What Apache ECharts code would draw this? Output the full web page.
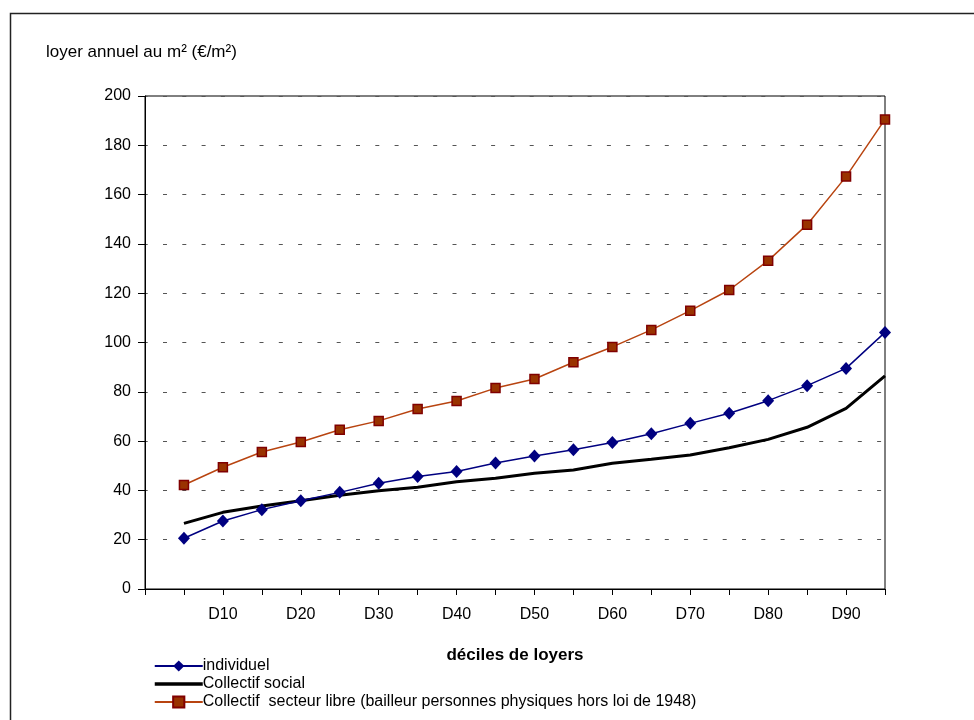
<!DOCTYPE html>
<html>
<head>
<meta charset="utf-8">
<script src="https://cdn.jsdelivr.net/npm/echarts@6/dist/echarts.min.js"></script>
<style>html,body{margin:0;padding:0;background:#fff}#c{width:974px;height:720px}</style>
</head>
<body>
<div id="c"></div>
<script>
// categories (position 0 is the empty slot before the first decile)
var categories = ['D0','D5','D10','D15','D20','D25','D30','D35','D40','D45','D50','D55','D60','D65','D70','D75','D80','D85','D90','D95'];
var tickLabels = ['D10','D20','D30','D40','D50','D60','D70','D80','D90'];
var yTicks = [0,20,40,60,80,100,120,140,160,180,200];

var individuel = [null,20.6,27.6,32.2,35.8,39.2,42.9,45.6,47.7,51.1,54.0,56.5,59.4,63.0,67.2,71.3,76.4,82.5,89.5,104.1];
var collectifSocial = [null,26.6,31.1,33.7,35.8,38.0,39.9,41.3,43.5,44.9,47.0,48.3,51.0,52.6,54.4,57.3,60.7,65.6,73.3,86.5];
var collectifLibre = [null,42.2,49.4,55.6,59.6,64.6,68.2,73.0,76.3,81.5,85.2,92.0,98.2,105.1,112.9,121.3,133.2,147.8,167.3,190.5];

var seriesNames = ['individuel','Collectif social','Collectif  secteur libre (bailleur personnes physiques hors loi de 1948)'];

var FONT = '"Liberation Sans", Arial, sans-serif';
var chart = echarts.init(document.getElementById('c'), null, {renderer:'canvas'});
chart.setOption({
  animation:false,
  backgroundColor:'#fff',
  textStyle:{fontFamily:FONT},
  title:{text:'loyer annuel au m² (€/m²)', left:41, top:39,
    textStyle:{fontFamily:FONT,fontSize:17,fontWeight:'normal',color:'#000'}},
  graphic:[{type:'rect', silent:true, z:-1,
    shape:{x:10.5,y:13.5,width:1200,height:1200},
    style:{fill:'none',stroke:'#222',lineWidth:1.5}}],
  legend:{orient:'vertical', left:148, top:653, itemGap:2, itemWidth:48, itemHeight:14,
    textStyle:{fontFamily:FONT,fontSize:16,color:'#000',padding:[0,0,0,-5]},
    data:[
      {name:seriesNames[0]},
      {name:seriesNames[1], itemStyle:{opacity:0}, lineStyle:{width:3.5,color:'#000'}},
      {name:seriesNames[2]}
    ]},
  grid:{left:145, top:96, width:740, height:493, show:true, borderColor:'#000', borderWidth:1, containLabel:false},
  xAxis:{type:'category', data:categories, boundaryGap:false,
    name:'déciles de loyers', nameLocation:'middle', nameGap:58,
    nameTextStyle:{fontFamily:FONT,fontSize:17,fontWeight:'bold',color:'#000'},
    axisLine:{lineStyle:{color:'#000',width:1}},
    axisTick:{show:true, interval:0, length:6, lineStyle:{color:'#000'}},
    axisLabel:{interval:0, margin:18, fontSize:16, color:'#000', fontFamily:FONT,
      formatter:function(v){return tickLabels.indexOf(v)>=0?v:'';}},
    splitLine:{show:false}},
  yAxis:{type:'value', min:yTicks[0], max:yTicks[yTicks.length-1], interval:20,
    axisLine:{show:true,lineStyle:{color:'#000',width:1}},
    axisTick:{show:true,length:7,lineStyle:{color:'#000'}},
    axisLabel:{margin:14, fontSize:16, color:'#000', fontFamily:FONT},
    splitLine:{show:true,lineStyle:{color:'#555',type:[4,15.3],dashOffset:1.3,width:1}}},
  series:[
    {name:seriesNames[0], type:'line', data:individuel, symbol:'diamond', symbolSize:[12,13],
      lineStyle:{color:'#000080',width:1.5}, itemStyle:{color:'#000080'}, z:3},
    {name:seriesNames[1], type:'line', data:collectifSocial, symbol:'none',
      lineStyle:{color:'#000',width:3}, itemStyle:{color:'#000'}, z:2},
    {name:seriesNames[2], type:'line', data:collectifLibre, symbol:'rect', symbolSize:9,
      lineStyle:{color:'#B84410',width:1.5}, itemStyle:{color:'#993300',borderColor:'#800000',borderWidth:1.5}, z:4}
  ]
});
</script>
</body>
</html>
